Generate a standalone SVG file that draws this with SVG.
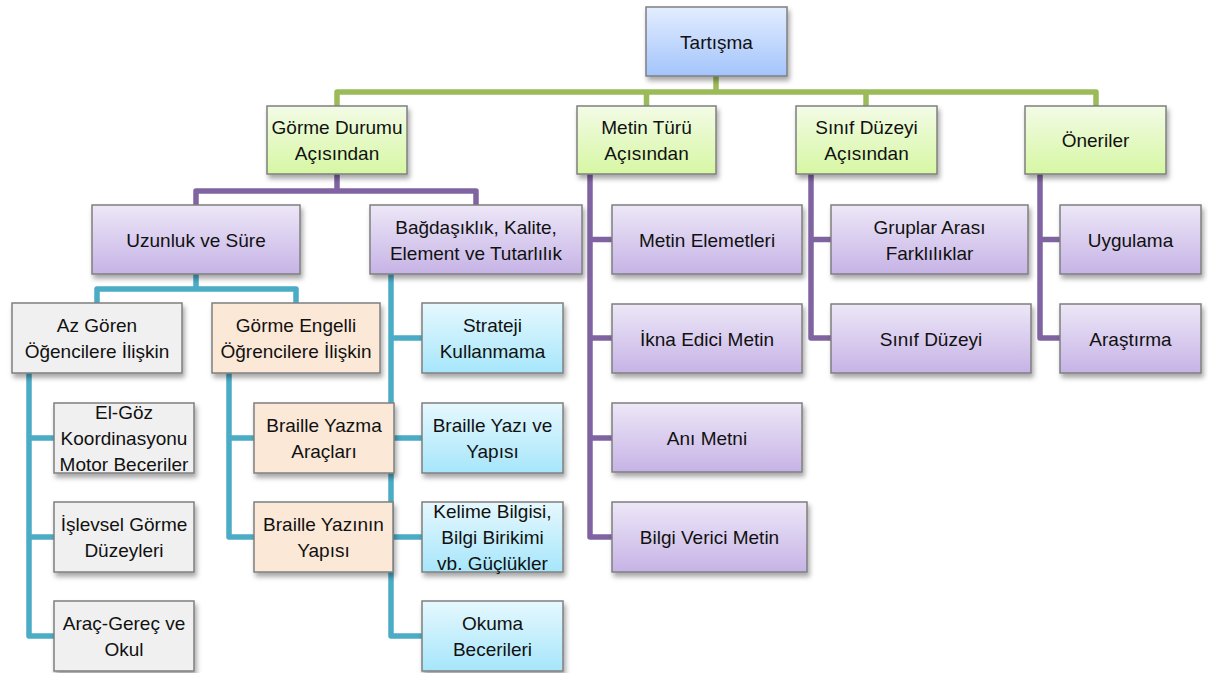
<svg xmlns="http://www.w3.org/2000/svg" width="1208" height="673" viewBox="0 0 1208 673">
<defs>
<linearGradient id="gBlue" x1="0" y1="0" x2="0" y2="1"><stop offset="0" stop-color="#e3edff"/><stop offset="1" stop-color="#a3c4fb"/></linearGradient>
<linearGradient id="gGreen" x1="0" y1="0" x2="0" y2="1"><stop offset="0" stop-color="#f3fbe6"/><stop offset="1" stop-color="#d6f7a3"/></linearGradient>
<linearGradient id="gPurple" x1="0" y1="0" x2="0" y2="1"><stop offset="0" stop-color="#ede7f7"/><stop offset="1" stop-color="#c6b3e6"/></linearGradient>
<linearGradient id="gCyan" x1="0" y1="0" x2="0" y2="1"><stop offset="0" stop-color="#e6f8fe"/><stop offset="1" stop-color="#a6e6fb"/></linearGradient>
<filter id="sh" x="-10%" y="-10%" width="125%" height="135%"><feDropShadow dx="2" dy="4" stdDeviation="2.5" flood-color="#000" flood-opacity="0.35"/></filter>
</defs>
<style>
.b{stroke:#7f7f7f;stroke-width:1.5;filter:url(#sh)}
.blue{fill:url(#gBlue)}.green{fill:url(#gGreen)}.purple{fill:url(#gPurple)}.cyan{fill:url(#gCyan)}
.gray{fill:#f0f0f0}.peach{fill:#fbe8d7}
text{font-family:"Liberation Sans",Arial,sans-serif;font-size:19px;fill:#111;text-anchor:middle}
.c{fill:none;stroke-width:5.5;stroke-linejoin:round}
.cg{stroke:#9bbb59}.cp{stroke:#8064a2}.cc{stroke:#4bacc6}
</style>
<g id="connectors">
<path class="c cg" d="M716 76V92M337 106V92H1096V106M646.5 92V106M866 92V106"/>
<path class="c cp" d="M337 174V191M196 205V191H476V205"/>
<path class="c cp" d="M590 174V537H612M590 239.5H612M590 338H612M590 438H612"/>
<path class="c cp" d="M811 174V338H831M811 239.5H831"/>
<path class="c cp" d="M1040 174V338H1060M1040 239.5H1060"/>
<path class="c cc" d="M196 274V289M97 303V289H296V303"/>
<path class="c cc" d="M29 373V636H54M29 438H54M29 537H54"/>
<path class="c cc" d="M229 373V537H254M229 438H254"/>
<path class="c cc" d="M391 274V636H422M391 338H422M391 438H422M391 537H422"/>
</g>
<g id="n-tartisma"><rect class="b blue" x="646" y="7" width="141" height="69"/><text x="716.5" y="48.5">Tartışma</text></g>
<g id="n-gorme"><rect class="b green" x="267" y="106" width="140" height="68"/><text x="337" y="134">Görme Durumu</text><text x="337" y="160">Açısından</text></g>
<g id="n-metin"><rect class="b green" x="577" y="106" width="139" height="68"/><text x="646.5" y="134">Metin Türü</text><text x="646.5" y="160">Açısından</text></g>
<g id="n-sinif"><rect class="b green" x="796" y="106" width="141" height="68"/><text x="866.5" y="134">Sınıf Düzeyi</text><text x="866.5" y="160">Açısından</text></g>
<g id="n-oneriler"><rect class="b green" x="1025" y="106" width="141" height="68"/><text x="1095.5" y="147">Öneriler</text></g>
<g id="n-uzunluk"><rect class="b purple" x="92" y="205" width="208" height="69"/><text x="196" y="246.5">Uzunluk ve Süre</text></g>
<g id="n-bagdas"><rect class="b purple" x="370" y="205" width="212" height="69"/><text x="476" y="233.5">Bağdaşıklık, Kalite,</text><text x="476" y="259.5">Element ve Tutarlılık</text></g>
<g id="n-metinelem"><rect class="b purple" x="612" y="205" width="190" height="69"/><text x="707" y="246.5">Metin Elemetleri</text></g>
<g id="n-ikna"><rect class="b purple" x="612" y="304" width="190" height="69"/><text x="707" y="345.5">İkna Edici Metin</text></g>
<g id="n-ani"><rect class="b purple" x="612" y="403" width="190" height="69"/><text x="707" y="444.5">Anı Metni</text></g>
<g id="n-bilgi"><rect class="b purple" x="612" y="502" width="195" height="70"/><text x="709.5" y="544">Bilgi Verici Metin</text></g>
<g id="n-gruplar"><rect class="b purple" x="831" y="205" width="197" height="69"/><text x="929.5" y="233.5">Gruplar Arası</text><text x="929.5" y="259.5">Farklılıklar</text></g>
<g id="n-sinifd"><rect class="b purple" x="831" y="304" width="200" height="69"/><text x="931" y="345.5">Sınıf Düzeyi</text></g>
<g id="n-uygulama"><rect class="b purple" x="1060" y="205" width="141" height="69"/><text x="1130.5" y="246.5">Uygulama</text></g>
<g id="n-arastirma"><rect class="b purple" x="1060" y="304" width="141" height="69"/><text x="1130.5" y="345.5">Araştırma</text></g>
<g id="n-azgoren"><rect class="b gray" x="12" y="303" width="170" height="70"/><text x="97" y="332">Az Gören</text><text x="97" y="358">Öğencilere İlişkin</text></g>
<g id="n-gormeeng"><rect class="b peach" x="212" y="303" width="168" height="70"/><text x="296" y="332">Görme Engelli</text><text x="296" y="358">Öğrencilere İlişkin</text></g>
<g id="n-elgoz"><rect class="b gray" x="54" y="403" width="140" height="70"/><text x="124" y="419">El-Göz</text><text x="124" y="445">Koordinasyonu</text><text x="124" y="471">Motor Beceriler</text></g>
<g id="n-islevsel"><rect class="b gray" x="54" y="502" width="140" height="70"/><text x="124" y="531">İşlevsel Görme</text><text x="124" y="557">Düzeyleri</text></g>
<g id="n-arac"><rect class="b gray" x="54" y="601" width="140" height="70"/><text x="124" y="630">Araç-Gereç ve</text><text x="124" y="656">Okul</text></g>
<g id="n-brailleyazma"><rect class="b peach" x="254" y="403" width="140" height="70"/><text x="324" y="432">Braille Yazma</text><text x="324" y="458">Araçları</text></g>
<g id="n-brailleyazinin"><rect class="b peach" x="254" y="502" width="139" height="70"/><text x="323.5" y="531">Braille Yazının</text><text x="323.5" y="557">Yapısı</text></g>
<g id="n-strateji"><rect class="b cyan" x="422" y="303" width="141" height="70"/><text x="492.5" y="332">Strateji</text><text x="492.5" y="358">Kullanmama</text></g>
<g id="n-brailleyazi"><rect class="b cyan" x="422" y="403" width="141" height="70"/><text x="492.5" y="432">Braille Yazı ve</text><text x="492.5" y="458">Yapısı</text></g>
<g id="n-kelime"><rect class="b cyan" x="422" y="502" width="141" height="70"/><text x="492.5" y="518">Kelime Bilgisi,</text><text x="492.5" y="544">Bilgi Birikimi</text><text x="492.5" y="570">vb. Güçlükler</text></g>
<g id="n-okuma"><rect class="b cyan" x="422" y="601" width="141" height="70"/><text x="492.5" y="630">Okuma</text><text x="492.5" y="656">Becerileri</text></g>
</svg>
